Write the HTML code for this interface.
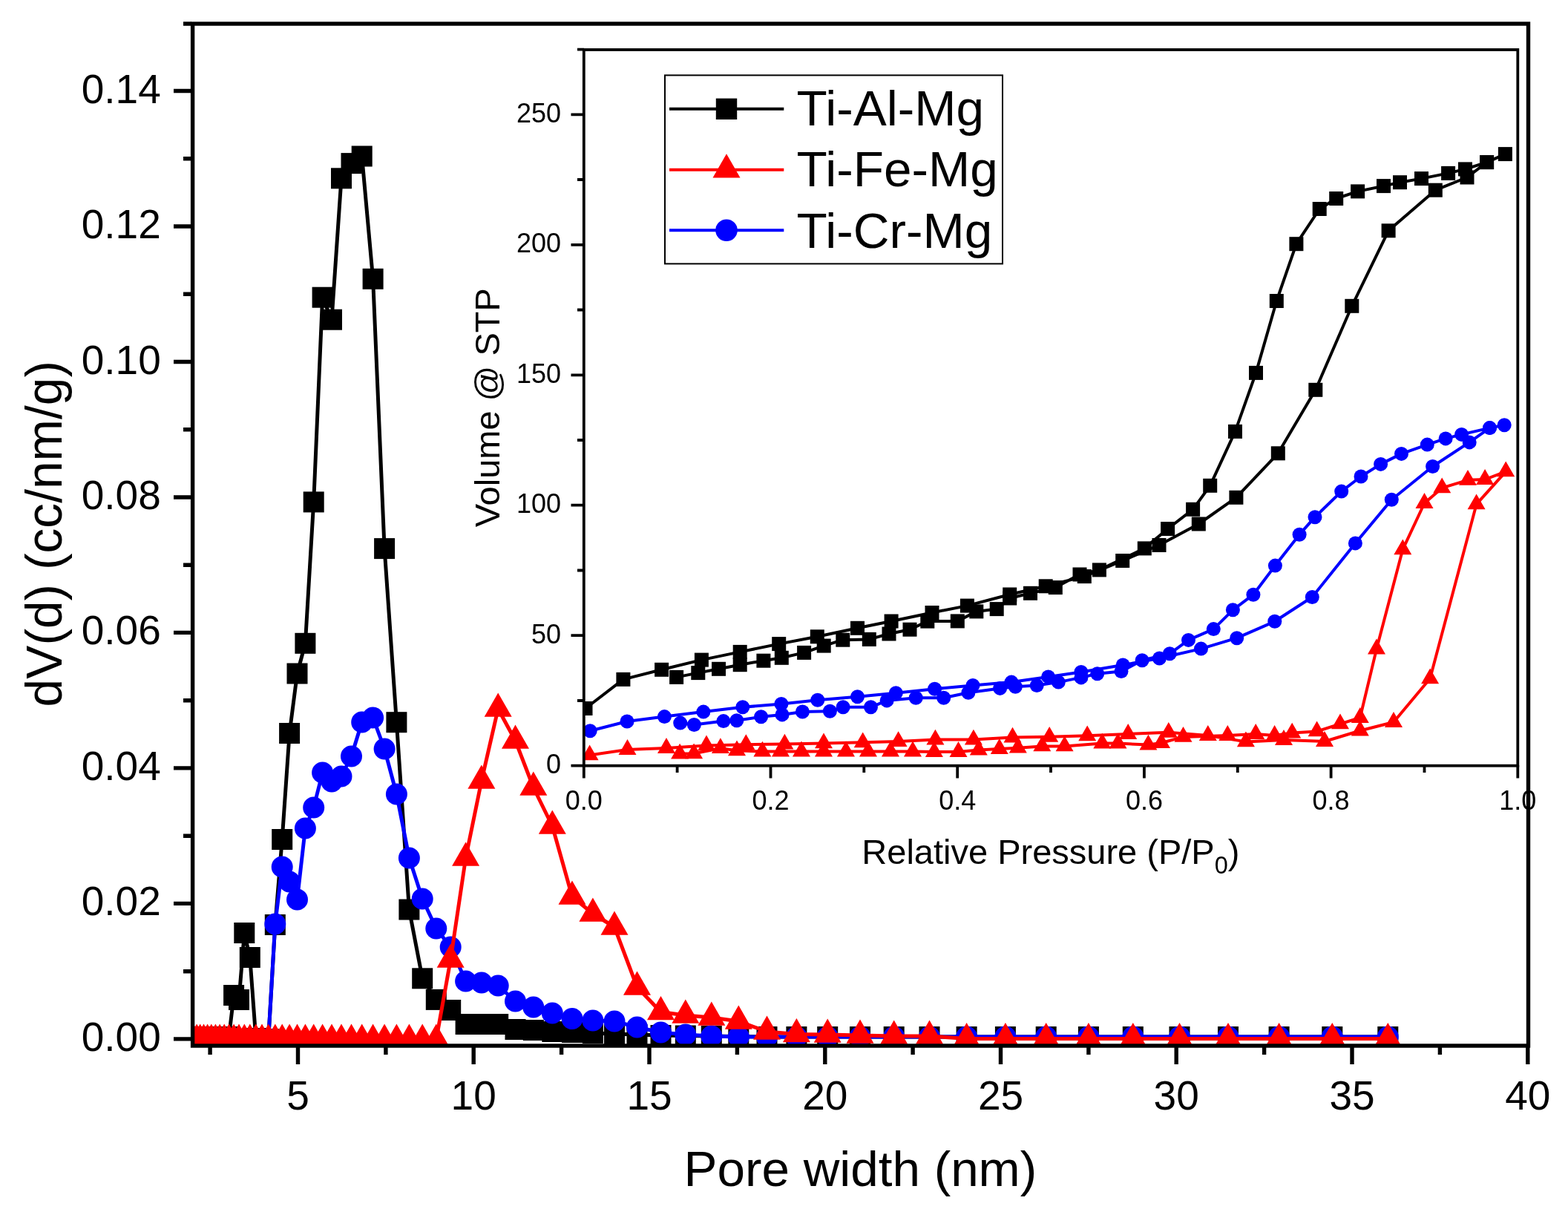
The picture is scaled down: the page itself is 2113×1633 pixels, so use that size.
<!DOCTYPE html>
<html><head><meta charset="utf-8"><title>Pore size distribution</title><style>html,body{margin:0;padding:0;background:#fff;}body{width:2113px;height:1633px;overflow:hidden;}svg{display:block;}</style></head><body>
<svg width="2113" height="1633" viewBox="0 0 2113 1633"><defs><clipPath id="cm"><rect x="259.6" y="32" width="1799.9" height="1377"/></clipPath><clipPath id="ci"><rect x="786.8" y="67" width="1258.5" height="964.7"/></clipPath></defs><rect x="0" y="0" width="2113" height="1633" fill="#fff"/><g clip-path="url(#cm)"><polyline points="252.4,1397 256.4,1397 260.7,1397 265.1,1397 269.7,1397 274.5,1397 279.6,1397 284.8,1397 290.4,1397 296.1,1397 302.2,1397 308.5,1397 315.1,1341 322,1347 329.3,1257 336.8,1290 344.8,1399 353,1400 361.7,1400 370.8,1246 380.2,1131 390.1,988 400.5,907.5 411.4,866.8 422.7,676.4 434.6,400.7 447,430.7 460,240.3 473.5,220.1 487.7,210.5 502.6,375.8 518.1,739.1 534.4,973.2 551.4,1225.5 569.2,1318.3 587.8,1346.9 607.2,1361 627.6,1380 648.9,1380 671.2,1380 694.5,1387 718.8,1388 744.3,1390 771,1391 798.9,1392 828,1393 858.5,1394 890.5,1395 923.8,1395.5 958.8,1396 995.3,1396.5 1033.5,1397 1073.4,1397 1115.2,1397 1159,1397 1204.7,1397 1252.5,1397 1302.6,1397 1354.9,1397 1409.7,1397 1466.9,1397 1526.8,1397 1589.5,1397 1655,1397 1723.6,1397 1795.3,1397 1870.3,1397" fill="none" stroke="#000" stroke-width="5" stroke-linejoin="round" stroke-linecap="butt"/><g fill="#000"><rect x="238.4" y="1383" width="28" height="28"/><rect x="242.4" y="1383" width="28" height="28"/><rect x="246.7" y="1383" width="28" height="28"/><rect x="251.1" y="1383" width="28" height="28"/><rect x="255.7" y="1383" width="28" height="28"/><rect x="260.5" y="1383" width="28" height="28"/><rect x="265.6" y="1383" width="28" height="28"/><rect x="270.8" y="1383" width="28" height="28"/><rect x="276.4" y="1383" width="28" height="28"/><rect x="282.1" y="1383" width="28" height="28"/><rect x="288.2" y="1383" width="28" height="28"/><rect x="294.5" y="1383" width="28" height="28"/><rect x="301.1" y="1327" width="28" height="28"/><rect x="308" y="1333" width="28" height="28"/><rect x="315.3" y="1243" width="28" height="28"/><rect x="322.8" y="1276" width="28" height="28"/><rect x="330.8" y="1385" width="28" height="28"/><rect x="339" y="1386" width="28" height="28"/><rect x="347.7" y="1386" width="28" height="28"/><rect x="356.8" y="1232" width="28" height="28"/><rect x="366.2" y="1117" width="28" height="28"/><rect x="376.1" y="974" width="28" height="28"/><rect x="386.5" y="893.5" width="28" height="28"/><rect x="397.4" y="852.8" width="28" height="28"/><rect x="408.7" y="662.4" width="28" height="28"/><rect x="420.6" y="386.7" width="28" height="28"/><rect x="433" y="416.7" width="28" height="28"/><rect x="446" y="226.3" width="28" height="28"/><rect x="459.5" y="206.1" width="28" height="28"/><rect x="473.7" y="196.5" width="28" height="28"/><rect x="488.6" y="361.8" width="28" height="28"/><rect x="504.1" y="725.1" width="28" height="28"/><rect x="520.4" y="959.2" width="28" height="28"/><rect x="537.4" y="1211.5" width="28" height="28"/><rect x="555.2" y="1304.3" width="28" height="28"/><rect x="573.8" y="1332.9" width="28" height="28"/><rect x="593.2" y="1347" width="28" height="28"/><rect x="613.6" y="1366" width="28" height="28"/><rect x="634.9" y="1366" width="28" height="28"/><rect x="657.2" y="1366" width="28" height="28"/><rect x="680.5" y="1373" width="28" height="28"/><rect x="704.8" y="1374" width="28" height="28"/><rect x="730.3" y="1376" width="28" height="28"/><rect x="757" y="1377" width="28" height="28"/><rect x="784.9" y="1378" width="28" height="28"/><rect x="814" y="1379" width="28" height="28"/><rect x="844.5" y="1380" width="28" height="28"/><rect x="876.5" y="1381" width="28" height="28"/><rect x="909.8" y="1381.5" width="28" height="28"/><rect x="944.8" y="1382" width="28" height="28"/><rect x="981.3" y="1382.5" width="28" height="28"/><rect x="1019.5" y="1383" width="28" height="28"/><rect x="1059.4" y="1383" width="28" height="28"/><rect x="1101.2" y="1383" width="28" height="28"/><rect x="1145" y="1383" width="28" height="28"/><rect x="1190.7" y="1383" width="28" height="28"/><rect x="1238.5" y="1383" width="28" height="28"/><rect x="1288.6" y="1383" width="28" height="28"/><rect x="1340.9" y="1383" width="28" height="28"/><rect x="1395.7" y="1383" width="28" height="28"/><rect x="1452.9" y="1383" width="28" height="28"/><rect x="1512.8" y="1383" width="28" height="28"/><rect x="1575.5" y="1383" width="28" height="28"/><rect x="1641" y="1383" width="28" height="28"/><rect x="1709.6" y="1383" width="28" height="28"/><rect x="1781.3" y="1383" width="28" height="28"/><rect x="1856.3" y="1383" width="28" height="28"/></g><polyline points="252.4,1400 256.4,1400 260.7,1400 265.1,1400 269.7,1400 274.5,1400 279.6,1400 284.8,1400 290.4,1400 296.1,1400 302.2,1400 308.5,1400 315.1,1400 322,1400 329.3,1400 336.8,1400 344.8,1400 353,1400 361.7,1400 370.8,1245 380.2,1168 390.1,1188 400.5,1212 411.4,1116 422.7,1088 434.6,1041 447,1053 460,1046 473.5,1019 487.7,973 502.6,967 518.1,1009 534.4,1070 551.4,1156 569.2,1211 587.8,1251 607.2,1276 627.6,1322 648.9,1324 671.2,1328 694.5,1349 718.8,1357 744.3,1365 771,1372.5 798.9,1375 828,1376 858.5,1384 890.5,1391 923.8,1394 958.8,1396 995.3,1397 1033.5,1397 1073.4,1397 1115.2,1397 1159,1397 1204.7,1397 1252.5,1397 1302.6,1397 1354.9,1397 1409.7,1397 1466.9,1397 1526.8,1397 1589.5,1397 1655,1397 1723.6,1397 1795.3,1397 1870.3,1397" fill="none" stroke="#00f" stroke-width="5" stroke-linejoin="round" stroke-linecap="butt"/><g fill="#00f"><circle cx="252.4" cy="1400" r="14.5"/><circle cx="256.4" cy="1400" r="14.5"/><circle cx="260.7" cy="1400" r="14.5"/><circle cx="265.1" cy="1400" r="14.5"/><circle cx="269.7" cy="1400" r="14.5"/><circle cx="274.5" cy="1400" r="14.5"/><circle cx="279.6" cy="1400" r="14.5"/><circle cx="284.8" cy="1400" r="14.5"/><circle cx="290.4" cy="1400" r="14.5"/><circle cx="296.1" cy="1400" r="14.5"/><circle cx="302.2" cy="1400" r="14.5"/><circle cx="308.5" cy="1400" r="14.5"/><circle cx="315.1" cy="1400" r="14.5"/><circle cx="322" cy="1400" r="14.5"/><circle cx="329.3" cy="1400" r="14.5"/><circle cx="336.8" cy="1400" r="14.5"/><circle cx="344.8" cy="1400" r="14.5"/><circle cx="353" cy="1400" r="14.5"/><circle cx="361.7" cy="1400" r="14.5"/><circle cx="370.8" cy="1245" r="14.5"/><circle cx="380.2" cy="1168" r="14.5"/><circle cx="390.1" cy="1188" r="14.5"/><circle cx="400.5" cy="1212" r="14.5"/><circle cx="411.4" cy="1116" r="14.5"/><circle cx="422.7" cy="1088" r="14.5"/><circle cx="434.6" cy="1041" r="14.5"/><circle cx="447" cy="1053" r="14.5"/><circle cx="460" cy="1046" r="14.5"/><circle cx="473.5" cy="1019" r="14.5"/><circle cx="487.7" cy="973" r="14.5"/><circle cx="502.6" cy="967" r="14.5"/><circle cx="518.1" cy="1009" r="14.5"/><circle cx="534.4" cy="1070" r="14.5"/><circle cx="551.4" cy="1156" r="14.5"/><circle cx="569.2" cy="1211" r="14.5"/><circle cx="587.8" cy="1251" r="14.5"/><circle cx="607.2" cy="1276" r="14.5"/><circle cx="627.6" cy="1322" r="14.5"/><circle cx="648.9" cy="1324" r="14.5"/><circle cx="671.2" cy="1328" r="14.5"/><circle cx="694.5" cy="1349" r="14.5"/><circle cx="718.8" cy="1357" r="14.5"/><circle cx="744.3" cy="1365" r="14.5"/><circle cx="771" cy="1372.5" r="14.5"/><circle cx="798.9" cy="1375" r="14.5"/><circle cx="828" cy="1376" r="14.5"/><circle cx="858.5" cy="1384" r="14.5"/><circle cx="890.5" cy="1391" r="14.5"/><circle cx="923.8" cy="1394" r="14.5"/><circle cx="958.8" cy="1396" r="14.5"/><circle cx="995.3" cy="1397" r="14.5"/><circle cx="1033.5" cy="1397" r="14.5"/><circle cx="1073.4" cy="1397" r="14.5"/><circle cx="1115.2" cy="1397" r="14.5"/><circle cx="1159" cy="1397" r="14.5"/><circle cx="1204.7" cy="1397" r="14.5"/><circle cx="1252.5" cy="1397" r="14.5"/><circle cx="1302.6" cy="1397" r="14.5"/><circle cx="1354.9" cy="1397" r="14.5"/><circle cx="1409.7" cy="1397" r="14.5"/><circle cx="1466.9" cy="1397" r="14.5"/><circle cx="1526.8" cy="1397" r="14.5"/><circle cx="1589.5" cy="1397" r="14.5"/><circle cx="1655" cy="1397" r="14.5"/><circle cx="1723.6" cy="1397" r="14.5"/><circle cx="1795.3" cy="1397" r="14.5"/><circle cx="1870.3" cy="1397" r="14.5"/></g><polyline points="252.4,1401 256.4,1401 260.7,1401 265.1,1401 269.7,1401 274.5,1401 279.6,1401 284.8,1401 290.4,1401 296.1,1401 302.2,1401 308.5,1401 315.1,1401 322,1401 329.3,1401 336.8,1401 344.8,1401 353,1401 361.7,1401 370.8,1401 380.2,1401 390.1,1401 400.5,1401 411.4,1401 422.7,1401 434.6,1401 447,1401 460,1401 473.5,1401 487.7,1401 502.6,1401 518.1,1401 534.4,1401 551.4,1401 569.2,1401 587.8,1401 607.2,1293 627.6,1156 648.9,1052 671.2,955 694.5,998 718.8,1061 744.3,1113 771,1208 798.9,1231 828,1249 858.5,1330 890.5,1363.5 923.8,1368 958.8,1371 995.3,1376 1033.5,1390 1073.4,1393.5 1115.2,1394 1159,1395 1204.7,1396 1252.5,1396 1302.6,1399.5 1354.9,1399.5 1409.7,1399.5 1466.9,1399.5 1526.8,1399.5 1589.5,1399.5 1655,1399.5 1723.6,1399.5 1795.3,1399.5 1870.3,1399.5" fill="none" stroke="#f00" stroke-width="5" stroke-linejoin="round" stroke-linecap="butt"/><g fill="#f00"><path d="M252.4 1379.6L233.9 1411.7L270.9 1411.7Z"/><path d="M256.4 1379.6L237.9 1411.7L274.9 1411.7Z"/><path d="M260.7 1379.6L242.2 1411.7L279.2 1411.7Z"/><path d="M265.1 1379.6L246.6 1411.7L283.6 1411.7Z"/><path d="M269.7 1379.6L251.2 1411.7L288.2 1411.7Z"/><path d="M274.5 1379.6L256 1411.7L293 1411.7Z"/><path d="M279.6 1379.6L261.1 1411.7L298.1 1411.7Z"/><path d="M284.8 1379.6L266.3 1411.7L303.3 1411.7Z"/><path d="M290.4 1379.6L271.9 1411.7L308.9 1411.7Z"/><path d="M296.1 1379.6L277.6 1411.7L314.6 1411.7Z"/><path d="M302.2 1379.6L283.7 1411.7L320.7 1411.7Z"/><path d="M308.5 1379.6L290 1411.7L327 1411.7Z"/><path d="M315.1 1379.6L296.6 1411.7L333.6 1411.7Z"/><path d="M322 1379.6L303.5 1411.7L340.5 1411.7Z"/><path d="M329.3 1379.6L310.8 1411.7L347.8 1411.7Z"/><path d="M336.8 1379.6L318.3 1411.7L355.3 1411.7Z"/><path d="M344.8 1379.6L326.3 1411.7L363.3 1411.7Z"/><path d="M353 1379.6L334.5 1411.7L371.5 1411.7Z"/><path d="M361.7 1379.6L343.2 1411.7L380.2 1411.7Z"/><path d="M370.8 1379.6L352.3 1411.7L389.3 1411.7Z"/><path d="M380.2 1379.6L361.7 1411.7L398.7 1411.7Z"/><path d="M390.1 1379.6L371.6 1411.7L408.6 1411.7Z"/><path d="M400.5 1379.6L382 1411.7L419 1411.7Z"/><path d="M411.4 1379.6L392.9 1411.7L429.9 1411.7Z"/><path d="M422.7 1379.6L404.2 1411.7L441.2 1411.7Z"/><path d="M434.6 1379.6L416.1 1411.7L453.1 1411.7Z"/><path d="M447 1379.6L428.5 1411.7L465.5 1411.7Z"/><path d="M460 1379.6L441.5 1411.7L478.5 1411.7Z"/><path d="M473.5 1379.6L455 1411.7L492 1411.7Z"/><path d="M487.7 1379.6L469.2 1411.7L506.2 1411.7Z"/><path d="M502.6 1379.6L484.1 1411.7L521.1 1411.7Z"/><path d="M518.1 1379.6L499.6 1411.7L536.6 1411.7Z"/><path d="M534.4 1379.6L515.9 1411.7L552.9 1411.7Z"/><path d="M551.4 1379.6L532.9 1411.7L569.9 1411.7Z"/><path d="M569.2 1379.6L550.7 1411.7L587.7 1411.7Z"/><path d="M587.8 1379.6L569.3 1411.7L606.3 1411.7Z"/><path d="M607.2 1271.6L588.7 1303.7L625.7 1303.7Z"/><path d="M627.6 1134.6L609.1 1166.7L646.1 1166.7Z"/><path d="M648.9 1030.6L630.4 1062.7L667.4 1062.7Z"/><path d="M671.2 933.6L652.7 965.7L689.7 965.7Z"/><path d="M694.5 976.6L676 1008.7L713 1008.7Z"/><path d="M718.8 1039.6L700.3 1071.7L737.3 1071.7Z"/><path d="M744.3 1091.6L725.8 1123.7L762.8 1123.7Z"/><path d="M771 1186.6L752.5 1218.7L789.5 1218.7Z"/><path d="M798.9 1209.6L780.4 1241.7L817.4 1241.7Z"/><path d="M828 1227.6L809.5 1259.7L846.5 1259.7Z"/><path d="M858.5 1308.6L840 1340.7L877 1340.7Z"/><path d="M890.5 1342.1L872 1374.2L909 1374.2Z"/><path d="M923.8 1346.6L905.3 1378.7L942.3 1378.7Z"/><path d="M958.8 1349.6L940.3 1381.7L977.3 1381.7Z"/><path d="M995.3 1354.6L976.8 1386.7L1013.8 1386.7Z"/><path d="M1033.5 1368.6L1015 1400.7L1052 1400.7Z"/><path d="M1073.4 1372.1L1054.9 1404.2L1091.9 1404.2Z"/><path d="M1115.2 1372.6L1096.7 1404.7L1133.7 1404.7Z"/><path d="M1159 1373.6L1140.5 1405.7L1177.5 1405.7Z"/><path d="M1204.7 1374.6L1186.2 1406.7L1223.2 1406.7Z"/><path d="M1252.5 1374.6L1234 1406.7L1271 1406.7Z"/><path d="M1302.6 1378.1L1284.1 1410.2L1321.1 1410.2Z"/><path d="M1354.9 1378.1L1336.4 1410.2L1373.4 1410.2Z"/><path d="M1409.7 1378.1L1391.2 1410.2L1428.2 1410.2Z"/><path d="M1466.9 1378.1L1448.4 1410.2L1485.4 1410.2Z"/><path d="M1526.8 1378.1L1508.3 1410.2L1545.3 1410.2Z"/><path d="M1589.5 1378.1L1571 1410.2L1608 1410.2Z"/><path d="M1655 1378.1L1636.5 1410.2L1673.5 1410.2Z"/><path d="M1723.6 1378.1L1705.1 1410.2L1742.1 1410.2Z"/><path d="M1795.3 1378.1L1776.8 1410.2L1813.8 1410.2Z"/><path d="M1870.3 1378.1L1851.8 1410.2L1888.8 1410.2Z"/></g></g><path d="M234 1399.9H258M247 1308.7H258M234 1217.4H258M247 1126.2H258M234 1034.9H258M247 943.7H258M234 852.4H258M247 761.2H258M234 670H258M247 578.7H258M234 487.5H258M247 396.2H258M234 305H258M247 213.7H258M234 122.5H258M247 32H258M283.1 1410V1421M401.5 1410V1434M519.9 1410V1421M638.2 1410V1434M756.6 1410V1421M875 1410V1434M993.4 1410V1421M1111.8 1410V1434M1230.1 1410V1421M1348.5 1410V1434M1466.9 1410V1421M1585.2 1410V1434M1703.6 1410V1421M1822 1410V1434M1940.4 1410V1421M2058.8 1410V1434" stroke="#000" stroke-width="5.4" fill="none"/><g font-family='"Liberation Sans", Arial, Helvetica, sans-serif' font-size="55" fill="#000"><text x="216.8" y="1415.9" text-anchor="end">0.00</text><text x="216.8" y="1233.4" text-anchor="end">0.02</text><text x="216.8" y="1050.9" text-anchor="end">0.04</text><text x="216.8" y="868.4" text-anchor="end">0.06</text><text x="216.8" y="686" text-anchor="end">0.08</text><text x="216.8" y="503.5" text-anchor="end">0.10</text><text x="216.8" y="321" text-anchor="end">0.12</text><text x="216.8" y="138.5" text-anchor="end">0.14</text><text x="401.5" y="1495" text-anchor="middle">5</text><text x="638.2" y="1495" text-anchor="middle">10</text><text x="875" y="1495" text-anchor="middle">15</text><text x="1111.8" y="1495" text-anchor="middle">20</text><text x="1348.5" y="1495" text-anchor="middle">25</text><text x="1585.2" y="1495" text-anchor="middle">30</text><text x="1822" y="1495" text-anchor="middle">35</text><text x="2058.8" y="1495" text-anchor="middle">40</text></g><text x="1159.4" y="1597.5" text-anchor="middle" font-family='"Liberation Sans", Arial, Helvetica, sans-serif' font-size="67.4" fill="#000">Pore width (nm)</text><text transform="translate(83.1 719.2) rotate(-90)" text-anchor="middle" font-family='"Liberation Sans", Arial, Helvetica, sans-serif' font-size="67.7" fill="#000">dV(d) (cc/nm/g)</text><rect x="786.8" y="67" width="1258.5" height="964.7" fill="#fff"/><g clip-path="url(#ci)"><polyline points="789,954.5 839.9,915.4 891.6,902.3 945.4,889.1 997.2,878.4 1049.7,867.6 1101.3,857.8 1155.5,846.3 1201.1,837 1256,825.5 1303.4,816.1 1360.7,801 1409.2,789.8 1461.3,776.6 1512.7,755.5 1562,734.5 1615.3,706 1665.9,670.3 1722.3,610.8 1772.8,525.3 1821.8,412.3 1871.1,310.8 1934.3,256.2 1977,239 2003.6,218.6 2028.4,207.6 2003.6,218.6 1974.5,227.9 1951.6,233.4 1915.5,240.6 1886.5,245.7 1864.5,250.6 1829.6,257.9 1800.7,267.5 1778.2,281.5 1746.9,328.7 1720.3,405.5 1692.5,502.4 1664.5,581.4 1630.7,654.3 1607.6,686.3 1573.6,712.5 1542.3,738.9 1481.4,767.9 1455,774 1422.3,791.6 1388.5,799.3 1360.7,806 1343.2,820.6 1315.8,823.9 1290.3,836.9 1249.8,837.1 1226,848.2 1198,854 1171.3,861.4 1135.8,862.2 1110.2,870.1 1083.6,879.4 1053.3,886.3 1028.9,890.2 997.2,895.7 968.5,901.3 940.8,906.6 911.6,912.4" fill="none" stroke="#000" stroke-width="4" stroke-linejoin="round" stroke-linecap="butt"/><g fill="#000"><rect x="779.5" y="945" width="19" height="19"/><rect x="830.4" y="905.9" width="19" height="19"/><rect x="882.1" y="892.8" width="19" height="19"/><rect x="935.9" y="879.6" width="19" height="19"/><rect x="987.7" y="868.9" width="19" height="19"/><rect x="1040.2" y="858.1" width="19" height="19"/><rect x="1091.8" y="848.3" width="19" height="19"/><rect x="1146" y="836.8" width="19" height="19"/><rect x="1191.6" y="827.5" width="19" height="19"/><rect x="1246.5" y="816" width="19" height="19"/><rect x="1293.9" y="806.6" width="19" height="19"/><rect x="1351.2" y="791.5" width="19" height="19"/><rect x="1399.7" y="780.3" width="19" height="19"/><rect x="1451.8" y="767.1" width="19" height="19"/><rect x="1503.2" y="746" width="19" height="19"/><rect x="1552.5" y="725" width="19" height="19"/><rect x="1605.8" y="696.5" width="19" height="19"/><rect x="1656.4" y="660.8" width="19" height="19"/><rect x="1712.8" y="601.3" width="19" height="19"/><rect x="1763.3" y="515.8" width="19" height="19"/><rect x="1812.3" y="402.8" width="19" height="19"/><rect x="1861.6" y="301.3" width="19" height="19"/><rect x="1924.8" y="246.7" width="19" height="19"/><rect x="1967.5" y="229.5" width="19" height="19"/><rect x="1994.1" y="209.1" width="19" height="19"/><rect x="2018.9" y="198.1" width="19" height="19"/><rect x="1994.1" y="209.1" width="19" height="19"/><rect x="1965" y="218.4" width="19" height="19"/><rect x="1942.1" y="223.9" width="19" height="19"/><rect x="1906" y="231.1" width="19" height="19"/><rect x="1877" y="236.2" width="19" height="19"/><rect x="1855" y="241.1" width="19" height="19"/><rect x="1820.1" y="248.4" width="19" height="19"/><rect x="1791.2" y="258" width="19" height="19"/><rect x="1768.7" y="272" width="19" height="19"/><rect x="1737.4" y="319.2" width="19" height="19"/><rect x="1710.8" y="396" width="19" height="19"/><rect x="1683" y="492.9" width="19" height="19"/><rect x="1655" y="571.9" width="19" height="19"/><rect x="1621.2" y="644.8" width="19" height="19"/><rect x="1598.1" y="676.8" width="19" height="19"/><rect x="1564.1" y="703" width="19" height="19"/><rect x="1532.8" y="729.4" width="19" height="19"/><rect x="1471.9" y="758.4" width="19" height="19"/><rect x="1445.5" y="764.5" width="19" height="19"/><rect x="1412.8" y="782.1" width="19" height="19"/><rect x="1379" y="789.8" width="19" height="19"/><rect x="1351.2" y="796.5" width="19" height="19"/><rect x="1333.7" y="811.1" width="19" height="19"/><rect x="1306.3" y="814.4" width="19" height="19"/><rect x="1280.8" y="827.4" width="19" height="19"/><rect x="1240.3" y="827.6" width="19" height="19"/><rect x="1216.5" y="838.7" width="19" height="19"/><rect x="1188.5" y="844.5" width="19" height="19"/><rect x="1161.8" y="851.9" width="19" height="19"/><rect x="1126.3" y="852.7" width="19" height="19"/><rect x="1100.7" y="860.6" width="19" height="19"/><rect x="1074.1" y="869.9" width="19" height="19"/><rect x="1043.8" y="876.8" width="19" height="19"/><rect x="1019.4" y="880.7" width="19" height="19"/><rect x="987.7" y="886.2" width="19" height="19"/><rect x="959" y="891.8" width="19" height="19"/><rect x="931.3" y="897.1" width="19" height="19"/><rect x="902.1" y="902.9" width="19" height="19"/></g><polyline points="794.6,1017.4 845.5,1010 898,1008 952,1004.5 1005.3,1003.2 1057.4,1002.6 1110,1001.4 1162.7,1000.3 1210.6,999.1 1260.4,996.6 1311.9,996.6 1364.5,993.6 1414.2,992.8 1465.2,991.3 1520.2,989 1574.8,986.8 1627.8,991 1678.9,999.4 1730,997 1785,999 1832.8,984.5 1878,973 1927.1,914.3 1989.6,679.4 2029.2,635.4 2001.1,646 1978,646.8 1943.2,657.4 1919.5,678 1890.3,740.3 1855,874.5 1832.8,967 1806,975.4 1774.6,985.4 1741.2,987.6 1717.6,991 1692.2,989 1654.3,991 1594.5,992.9 1565,1001 1547.4,1003.6 1506.5,1001.6 1485.3,1001.6 1434.6,1005.4 1404.3,1005.4 1371.8,1007.7 1346.8,1009 1318.8,1010.6 1291.5,1013 1258.9,1013 1230,1012.5 1200,1012.5 1170,1012.5 1140,1012.5 1110,1012.5 1080,1012.5 1052,1012.5 1027.4,1012.6 993,1011.3 970.9,1008.2 935.1,1015.3 916.1,1015.6" fill="none" stroke="#f00" stroke-width="4" stroke-linejoin="round" stroke-linecap="butt"/><g fill="#f00"><path d="M794.6 1003.5L782.6 1024.3L806.6 1024.3Z"/><path d="M845.5 996.1L833.5 1016.9L857.5 1016.9Z"/><path d="M898 994.1L886 1014.9L910 1014.9Z"/><path d="M952 990.6L940 1011.4L964 1011.4Z"/><path d="M1005.3 989.3L993.3 1010.1L1017.3 1010.1Z"/><path d="M1057.4 988.7L1045.4 1009.5L1069.4 1009.5Z"/><path d="M1110 987.5L1098 1008.3L1122 1008.3Z"/><path d="M1162.7 986.4L1150.7 1007.2L1174.7 1007.2Z"/><path d="M1210.6 985.2L1198.6 1006L1222.6 1006Z"/><path d="M1260.4 982.7L1248.4 1003.5L1272.4 1003.5Z"/><path d="M1311.9 982.7L1299.9 1003.5L1323.9 1003.5Z"/><path d="M1364.5 979.7L1352.5 1000.5L1376.5 1000.5Z"/><path d="M1414.2 978.9L1402.2 999.7L1426.2 999.7Z"/><path d="M1465.2 977.4L1453.2 998.2L1477.2 998.2Z"/><path d="M1520.2 975.1L1508.2 995.9L1532.2 995.9Z"/><path d="M1574.8 972.9L1562.8 993.7L1586.8 993.7Z"/><path d="M1627.8 977.1L1615.8 997.9L1639.8 997.9Z"/><path d="M1678.9 985.5L1666.9 1006.3L1690.9 1006.3Z"/><path d="M1730 983.1L1718 1003.9L1742 1003.9Z"/><path d="M1785 985.1L1773 1005.9L1797 1005.9Z"/><path d="M1832.8 970.6L1820.8 991.4L1844.8 991.4Z"/><path d="M1878 959.1L1866 979.9L1890 979.9Z"/><path d="M1927.1 900.4L1915.1 921.2L1939.1 921.2Z"/><path d="M1989.6 665.5L1977.6 686.3L2001.6 686.3Z"/><path d="M2029.2 621.5L2017.2 642.3L2041.2 642.3Z"/><path d="M2001.1 632.1L1989.1 652.9L2013.1 652.9Z"/><path d="M1978 632.9L1966 653.7L1990 653.7Z"/><path d="M1943.2 643.5L1931.2 664.3L1955.2 664.3Z"/><path d="M1919.5 664.1L1907.5 684.9L1931.5 684.9Z"/><path d="M1890.3 726.4L1878.3 747.2L1902.3 747.2Z"/><path d="M1855 860.6L1843 881.4L1867 881.4Z"/><path d="M1832.8 953.1L1820.8 973.9L1844.8 973.9Z"/><path d="M1806 961.5L1794 982.3L1818 982.3Z"/><path d="M1774.6 971.5L1762.6 992.3L1786.6 992.3Z"/><path d="M1741.2 973.7L1729.2 994.5L1753.2 994.5Z"/><path d="M1717.6 977.1L1705.6 997.9L1729.6 997.9Z"/><path d="M1692.2 975.1L1680.2 995.9L1704.2 995.9Z"/><path d="M1654.3 977.1L1642.3 997.9L1666.3 997.9Z"/><path d="M1594.5 979L1582.5 999.8L1606.5 999.8Z"/><path d="M1565 987.1L1553 1007.9L1577 1007.9Z"/><path d="M1547.4 989.7L1535.4 1010.5L1559.4 1010.5Z"/><path d="M1506.5 987.7L1494.5 1008.5L1518.5 1008.5Z"/><path d="M1485.3 987.7L1473.3 1008.5L1497.3 1008.5Z"/><path d="M1434.6 991.5L1422.6 1012.3L1446.6 1012.3Z"/><path d="M1404.3 991.5L1392.3 1012.3L1416.3 1012.3Z"/><path d="M1371.8 993.8L1359.8 1014.6L1383.8 1014.6Z"/><path d="M1346.8 995.1L1334.8 1015.9L1358.8 1015.9Z"/><path d="M1318.8 996.7L1306.8 1017.5L1330.8 1017.5Z"/><path d="M1291.5 999.1L1279.5 1019.9L1303.5 1019.9Z"/><path d="M1258.9 999.1L1246.9 1019.9L1270.9 1019.9Z"/><path d="M1230 998.6L1218 1019.4L1242 1019.4Z"/><path d="M1200 998.6L1188 1019.4L1212 1019.4Z"/><path d="M1170 998.6L1158 1019.4L1182 1019.4Z"/><path d="M1140 998.6L1128 1019.4L1152 1019.4Z"/><path d="M1110 998.6L1098 1019.4L1122 1019.4Z"/><path d="M1080 998.6L1068 1019.4L1092 1019.4Z"/><path d="M1052 998.6L1040 1019.4L1064 1019.4Z"/><path d="M1027.4 998.7L1015.4 1019.5L1039.4 1019.5Z"/><path d="M993 997.4L981 1018.2L1005 1018.2Z"/><path d="M970.9 994.3L958.9 1015.1L982.9 1015.1Z"/><path d="M935.1 1001.4L923.1 1022.2L947.1 1022.2Z"/><path d="M916.1 1001.7L904.1 1022.5L928.1 1022.5Z"/></g><polyline points="795.2,984.8 845,972 895.4,965.6 947.9,959.1 1000.8,952.8 1052.9,948.5 1101.8,943.2 1155.5,938.8 1207.3,933.8 1259.6,928.3 1311,923.4 1363,919.1 1412.6,911.9 1456.9,905.5 1513.2,896 1562.4,887 1618.5,874.1 1666.7,859.7 1717.8,837.3 1768.3,804.5 1826.4,731.9 1875.3,673.2 1930.6,628.5 1980.2,595.9 2007.5,576.6 2027.2,572.8 2007.5,576.6 1969.6,585.4 1948.1,590.9 1923.3,599.1 1888.5,611.4 1860.6,625.4 1834,642 1807.7,662.1 1772,696.7 1751.1,720.2 1718.4,762.1 1688.9,801.2 1661.4,821.8 1635.3,847.6 1601.5,862.4 1576.3,880.8 1539.1,889.8 1511,904.6 1478.7,907.7 1456.9,912.9 1426.3,919.1 1397.2,923.6 1368.3,925.2 1347.6,927.4 1304.9,933.2 1271.7,940.2 1234.2,940.2 1195.1,943.9 1173.5,952.8 1136.1,952.8 1118.4,958.3 1081.4,959 1054,962.9 1025.6,965.8 992.8,970.8 974.9,971.6 935.4,976.5 916.7,974.1" fill="none" stroke="#00f" stroke-width="4" stroke-linejoin="round" stroke-linecap="butt"/><g fill="#00f"><circle cx="795.2" cy="984.8" r="9.5"/><circle cx="845" cy="972" r="9.5"/><circle cx="895.4" cy="965.6" r="9.5"/><circle cx="947.9" cy="959.1" r="9.5"/><circle cx="1000.8" cy="952.8" r="9.5"/><circle cx="1052.9" cy="948.5" r="9.5"/><circle cx="1101.8" cy="943.2" r="9.5"/><circle cx="1155.5" cy="938.8" r="9.5"/><circle cx="1207.3" cy="933.8" r="9.5"/><circle cx="1259.6" cy="928.3" r="9.5"/><circle cx="1311" cy="923.4" r="9.5"/><circle cx="1363" cy="919.1" r="9.5"/><circle cx="1412.6" cy="911.9" r="9.5"/><circle cx="1456.9" cy="905.5" r="9.5"/><circle cx="1513.2" cy="896" r="9.5"/><circle cx="1562.4" cy="887" r="9.5"/><circle cx="1618.5" cy="874.1" r="9.5"/><circle cx="1666.7" cy="859.7" r="9.5"/><circle cx="1717.8" cy="837.3" r="9.5"/><circle cx="1768.3" cy="804.5" r="9.5"/><circle cx="1826.4" cy="731.9" r="9.5"/><circle cx="1875.3" cy="673.2" r="9.5"/><circle cx="1930.6" cy="628.5" r="9.5"/><circle cx="1980.2" cy="595.9" r="9.5"/><circle cx="2007.5" cy="576.6" r="9.5"/><circle cx="2027.2" cy="572.8" r="9.5"/><circle cx="2007.5" cy="576.6" r="9.5"/><circle cx="1969.6" cy="585.4" r="9.5"/><circle cx="1948.1" cy="590.9" r="9.5"/><circle cx="1923.3" cy="599.1" r="9.5"/><circle cx="1888.5" cy="611.4" r="9.5"/><circle cx="1860.6" cy="625.4" r="9.5"/><circle cx="1834" cy="642" r="9.5"/><circle cx="1807.7" cy="662.1" r="9.5"/><circle cx="1772" cy="696.7" r="9.5"/><circle cx="1751.1" cy="720.2" r="9.5"/><circle cx="1718.4" cy="762.1" r="9.5"/><circle cx="1688.9" cy="801.2" r="9.5"/><circle cx="1661.4" cy="821.8" r="9.5"/><circle cx="1635.3" cy="847.6" r="9.5"/><circle cx="1601.5" cy="862.4" r="9.5"/><circle cx="1576.3" cy="880.8" r="9.5"/><circle cx="1539.1" cy="889.8" r="9.5"/><circle cx="1511" cy="904.6" r="9.5"/><circle cx="1478.7" cy="907.7" r="9.5"/><circle cx="1456.9" cy="912.9" r="9.5"/><circle cx="1426.3" cy="919.1" r="9.5"/><circle cx="1397.2" cy="923.6" r="9.5"/><circle cx="1368.3" cy="925.2" r="9.5"/><circle cx="1347.6" cy="927.4" r="9.5"/><circle cx="1304.9" cy="933.2" r="9.5"/><circle cx="1271.7" cy="940.2" r="9.5"/><circle cx="1234.2" cy="940.2" r="9.5"/><circle cx="1195.1" cy="943.9" r="9.5"/><circle cx="1173.5" cy="952.8" r="9.5"/><circle cx="1136.1" cy="952.8" r="9.5"/><circle cx="1118.4" cy="958.3" r="9.5"/><circle cx="1081.4" cy="959" r="9.5"/><circle cx="1054" cy="962.9" r="9.5"/><circle cx="1025.6" cy="965.8" r="9.5"/><circle cx="992.8" cy="970.8" r="9.5"/><circle cx="974.9" cy="971.6" r="9.5"/><circle cx="935.4" cy="976.5" r="9.5"/><circle cx="916.7" cy="974.1" r="9.5"/></g></g><path d="M769.5 1031.7H787M778 944H787M769.5 856.2H787M778 768.5H787M769.5 680.7H787M778 593H787M769.5 505.3H787M778 417.5H787M769.5 329.8H787M778 242H787M769.5 154.3H787M778 66.6H787M786.8 1031V1048.5M912.6 1031V1041M1038.5 1031V1048.5M1164.3 1031V1041M1290.2 1031V1048.5M1416 1031V1041M1541.9 1031V1048.5M1667.8 1031V1041M1793.6 1031V1048.5M1919.5 1031V1041M2045.3 1031V1048.5" stroke="#000" stroke-width="3.8" fill="none"/><rect x="786.8" y="67" width="1258.5" height="964.7" fill="none" stroke="#000" stroke-width="3.8"/><g font-family='"Liberation Sans", Arial, Helvetica, sans-serif' font-size="36" fill="#000"><text x="756" y="1042.3" text-anchor="end">0</text><text x="756" y="866.8" text-anchor="end">50</text><text x="756" y="691.3" text-anchor="end">100</text><text x="756" y="515.9" text-anchor="end">150</text><text x="756" y="340.4" text-anchor="end">200</text><text x="756" y="164.9" text-anchor="end">250</text><text x="786.8" y="1091" text-anchor="middle">0.0</text><text x="1038.5" y="1091" text-anchor="middle">0.2</text><text x="1290.2" y="1091" text-anchor="middle">0.4</text><text x="1541.9" y="1091" text-anchor="middle">0.6</text><text x="1793.6" y="1091" text-anchor="middle">0.8</text><text x="2045.3" y="1091" text-anchor="middle">1.0</text></g><text x="1415.9" y="1164.2" text-anchor="middle" font-family='"Liberation Sans", Arial, Helvetica, sans-serif' font-size="47" fill="#000">Relative Pressure (P/P<tspan font-size="32.5" dy="12.3">0</tspan><tspan dy="-12.3">)</tspan></text><text transform="translate(672.8 549.2) rotate(-90)" text-anchor="middle" font-family='"Liberation Sans", Arial, Helvetica, sans-serif' font-size="47" fill="#000">Volume @ STP</text><rect x="896" y="101.4" width="455" height="254" fill="#fff" stroke="#000" stroke-width="2"/><path d="M902 146.8H1056.3" stroke="#000" stroke-width="4"/><path d="M902 228.7H1056.3" stroke="#f00" stroke-width="4"/><path d="M902 310.3H1056.3" stroke="#00f" stroke-width="4"/><g fill="#000"><rect x="964.8" y="132.6" width="28.4" height="28.4"/></g><g fill="#f00"><path d="M979 207.3L960.5 239.4L997.5 239.4Z"/></g><g fill="#00f"><circle cx="979" cy="310.3" r="14.8"/></g><g font-family='"Liberation Sans", Arial, Helvetica, sans-serif' font-size="67.5" fill="#000"><text x="1073.5" y="168.8">Ti-Al-Mg</text><text x="1073.5" y="251.2">Ti-Fe-Mg</text><text x="1073.5" y="333.5">Ti-Cr-Mg</text></g><rect x="259.6" y="32" width="1799.9" height="1377" fill="none" stroke="#000" stroke-width="5.4"/></svg>
</body></html>
